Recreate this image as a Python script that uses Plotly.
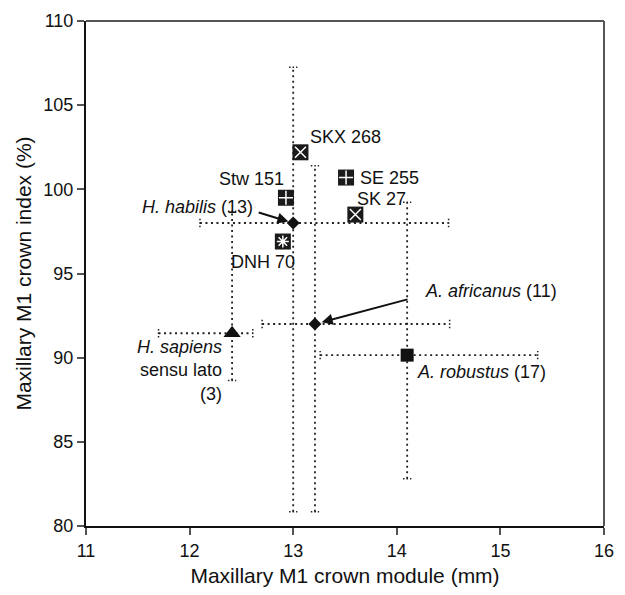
import plotly.graph_objects as go

# ---- data ----
groups = ["H. habilis", "A. africanus", "A. robustus", "H. sapiens"]
group_n = [13, 11, 17, 3]
gx = [13.0, 13.21, 14.10, 12.41]
gy = [98.0, 92.0, 90.15, 91.45]
gx_lo = [12.10, 12.70, 13.26, 11.70]
gx_hi = [14.50, 14.51, 15.36, 12.61]
gy_lo = [80.85, 80.85, 82.8, 88.65]
gy_hi = [107.25, 101.4, 99.24, 98.7]
g_symbols = ["diamond", "diamond", "square", "triangle-up"]
g_sizes = [10, 10, 13, 15]

spec_names = ["SKX 268", "SE 255", "SK 27", "Stw 151", "DNH 70"]
spec_x = [13.07, 13.51, 13.60, 12.93, 12.90]
spec_y = [102.2, 100.7, 98.5, 99.5, 96.9]
spec_glyph = ["x-thin", "cross-thin", "x-thin", "cross-thin", "asterisk"]
spec_glyph_size = [11, 10, 11, 10, 10]

x_ticks = [11, 12, 13, 14, 15, 16]
y_ticks = [80, 85, 90, 95, 100, 105, 110]

FONT = "Liberation Sans, Arial, sans-serif"
DOT = "2px,3.5px"
LC = "#222222"
TXT = "#111111"

fig = go.Figure()

# error bars as dotted lines with dotted caps
cap_y = 0.25   # half cap length in y units (for horizontal bars)
cap_x = 0.04   # half cap length in x units (for vertical bars)
for i in range(len(groups)):
    fig.add_trace(go.Scatter(x=[gx_lo[i], gx_hi[i]], y=[gy[i], gy[i]], mode="lines",
                             line=dict(color=LC, width=1.8, dash=DOT), showlegend=False, hoverinfo="skip"))
    fig.add_trace(go.Scatter(x=[gx[i], gx[i]], y=[gy_lo[i], gy_hi[i]], mode="lines",
                             line=dict(color=LC, width=1.8, dash=DOT), showlegend=False, hoverinfo="skip"))
    for xe in (gx_lo[i], gx_hi[i]):
        fig.add_trace(go.Scatter(x=[xe, xe], y=[gy[i] - cap_y, gy[i] + cap_y], mode="lines",
                                 line=dict(color=LC, width=1.5, dash="1.5px,2px"), showlegend=False, hoverinfo="skip"))
    for ye in (gy_lo[i], gy_hi[i]):
        fig.add_trace(go.Scatter(x=[gx[i] - cap_x, gx[i] + cap_x], y=[ye, ye], mode="lines",
                                 line=dict(color=LC, width=1.5, dash="1.5px,2px"), showlegend=False, hoverinfo="skip"))

# group markers
for i in range(len(groups)):
    fig.add_trace(go.Scatter(x=[gx[i]], y=[gy[i]], mode="markers",
                             marker=dict(symbol=g_symbols[i], size=g_sizes[i], color="#111111",
                                         line=dict(width=0)),
                             showlegend=False, hoverinfo="skip"))

# specimens: black squares with white glyphs
fig.add_trace(go.Scatter(x=spec_x, y=spec_y, mode="markers",
                         marker=dict(symbol="square", size=16, color="#1a1a1a", line=dict(width=0)),
                         showlegend=False, hoverinfo="skip"))
for i in range(len(spec_names)):
    fig.add_trace(go.Scatter(x=[spec_x[i]], y=[spec_y[i]], mode="markers",
                             marker=dict(symbol=spec_glyph[i], size=spec_glyph_size[i], color="white",
                                         line=dict(color="white", width=1.5)),
                             showlegend=False, hoverinfo="skip"))

# specimen labels (anchor, x/y pixel offsets)
spec_anchor = ["left", "left", "left", "right", "right"]
spec_dx = [8, 12, 0, 0, 14]
spec_dy = [15, 0, 16, 19, -20]
for i, name in enumerate(spec_names):
    fig.add_annotation(x=spec_x[i], y=spec_y[i], text=name, showarrow=False,
                       xanchor=spec_anchor[i], yanchor="middle",
                       xshift=spec_dx[i], yshift=spec_dy[i],
                       font=dict(family=FONT, size=18, color=TXT))

def glabel(i):
    return f"<i>{groups[i]}</i> ({group_n[i]})"

# H. habilis label + arrow
fig.add_annotation(x=gx[0], y=gy[0], ax=-36, ay=-11, axref="pixel", ayref="pixel",
                   text="", showarrow=True, arrowhead=2, arrowsize=1.1, arrowwidth=2,
                   arrowcolor="#111111", standoff=5)
fig.add_annotation(x=gx[0], y=gy[0], text=glabel(0), showarrow=False, xanchor="right",
                   yanchor="middle", xshift=-38, yshift=16,
                   font=dict(family=FONT, size=18, color=TXT))
# A. africanus label + arrow
fig.add_annotation(x=gx[1], y=gy[1], ax=94, ay=-25, axref="pixel", ayref="pixel",
                   text="", showarrow=True, arrowhead=2, arrowsize=1.1, arrowwidth=2,
                   arrowcolor="#111111", standoff=7)
fig.add_annotation(x=gx[1], y=gy[1], text=glabel(1), showarrow=False, xanchor="left",
                   yanchor="middle", xshift=108, yshift=33,
                   font=dict(family=FONT, size=18, color=TXT))
# A. robustus label
fig.add_annotation(x=gx[2], y=gy[2], text=glabel(2), showarrow=False, xanchor="left",
                   yanchor="middle", xshift=8, yshift=-17,
                   font=dict(family=FONT, size=18, color=TXT))
# H. sapiens label
fig.add_annotation(x=gx[3], y=gy[3], text=f"<i>{groups[3]}</i><br>sensu lato<br>({group_n[3]})",
                   showarrow=False, xanchor="right", yanchor="middle", align="right",
                   xshift=-8, yshift=-37,
                   font=dict(family=FONT, size=18, color=TXT))

# top/right frame
fig.add_shape(type="line", xref="paper", yref="paper", x0=0, x1=1, y0=1, y1=1,
              line=dict(color="#555555", width=2))
fig.add_shape(type="line", xref="paper", yref="paper", x0=1, x1=1, y0=0, y1=1,
              line=dict(color="#555555", width=2))

fig.update_layout(
    width=625, height=595,
    margin=dict(l=86, r=11, t=15, b=67),
    paper_bgcolor="white", plot_bgcolor="white",
    font=dict(family=FONT, size=18, color=TXT),
    xaxis=dict(range=[11, 16], tickvals=x_ticks, ticktext=[str(v) for v in x_ticks],
               showgrid=False, zeroline=False, showline=True, linecolor="#111111", linewidth=2,
               ticks="outside", ticklen=7, tickwidth=1.5, tickcolor="#555555",
               tickfont=dict(family=FONT, size=18, color=TXT),
               title=dict(text="Maxillary M1 crown module (mm)", standoff=9,
                          font=dict(family=FONT, size=21, color=TXT))),
    yaxis=dict(range=[80, 110], tickvals=y_ticks, ticktext=[str(v) for v in y_ticks],
               showgrid=False, zeroline=False, showline=True, linecolor="#111111", linewidth=2,
               ticks="outside", ticklen=7, tickwidth=1.5, tickcolor="#555555",
               tickfont=dict(family=FONT, size=18, color=TXT),
               title=dict(text="Maxillary M1 crown index (%)", standoff=6,
                          font=dict(family=FONT, size=21, color=TXT))),
)

fig.write_html("out.html")
